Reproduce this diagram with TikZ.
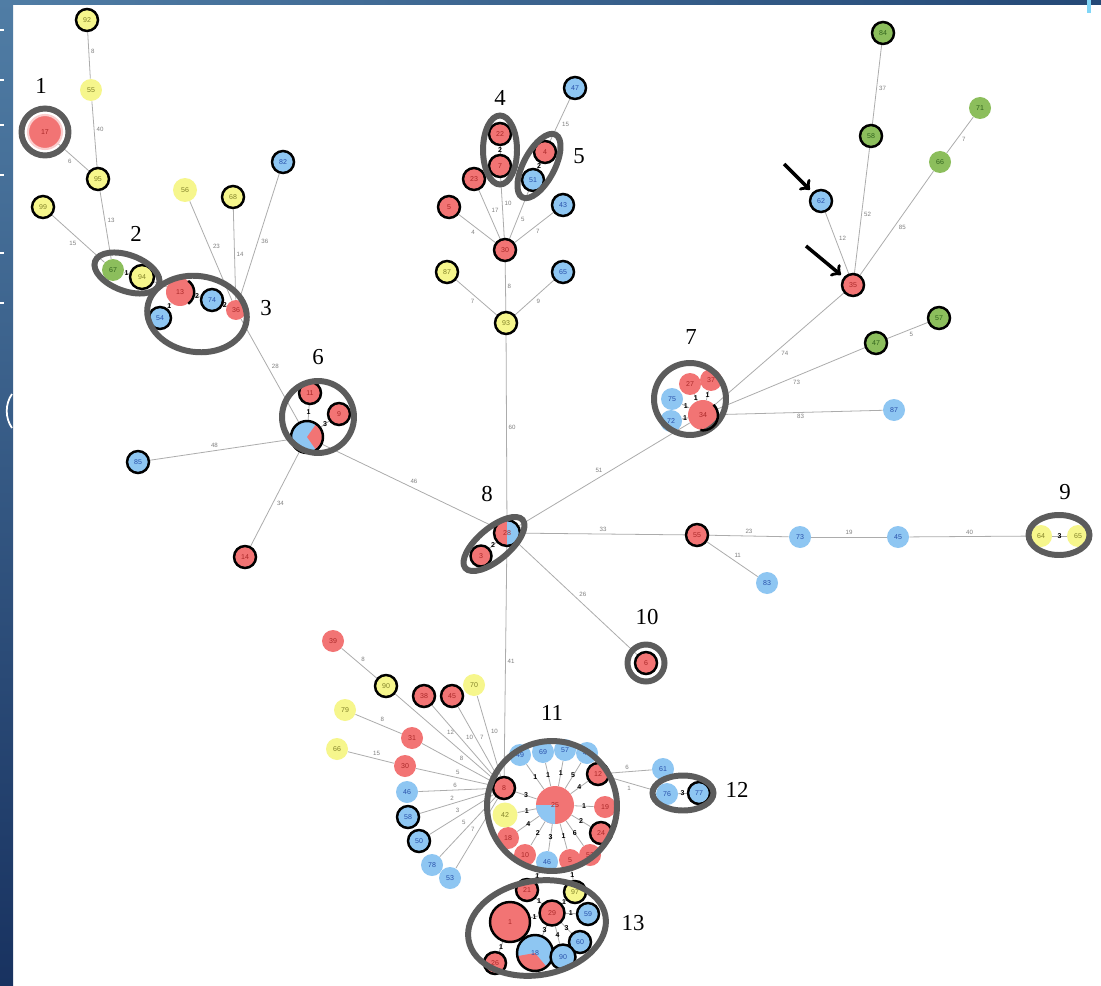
\documentclass[tikz,border=0pt]{standalone}
\usepackage{fontspec}
\setmainfont{Liberation Serif}
\setsansfont{Liberation Sans}
\usepackage{tikz}
\usetikzlibrary{arrows,shapes.geometric,backgrounds}

\begin{document}
\begin{tikzpicture}[x=0.02cm,y=-0.02cm]
    \definecolor{cred}{RGB}{242,116,116}
    \definecolor{cblue}{RGB}{142,198,242}
    \definecolor{cyel}{RGB}{246,246,140}
    \definecolor{cgrn}{RGB}{140,190,92}
    \definecolor{tred}{RGB}{170,40,40}
    \definecolor{tblue}{RGB}{40,80,170}
    \definecolor{tyel}{RGB}{130,130,40}
    \definecolor{tgrn}{RGB}{50,100,30}
    \definecolor{ringgray}{RGB}{92,92,92}
    \definecolor{frameA}{RGB}{80,125,165}
    \definecolor{frameB}{RGB}{24,50,96}
    \definecolor{frameC}{RGB}{36,72,118}

    \tikzstyle{hap}=[circle,inner sep=0pt,minimum size=0.44cm,font=\sffamily\fontsize{4}{4}\selectfont]  % 单倍型节点
    \tikzstyle{rd}=[hap,fill=cred,text=tred]
    \tikzstyle{bl}=[hap,fill=cblue,text=tblue]
    \tikzstyle{yl}=[hap,fill=cyel,text=tyel]
    \tikzstyle{gr}=[hap,fill=cgrn,text=tgrn]
    \tikzstyle{bd}=[draw=black,line width=1.4pt]  % 黑色边框
    \tikzstyle{ring}=[draw=ringgray,line width=3.4pt,inner sep=0pt]  % 分组圈
    \tikzstyle{glab}=[font=\fontsize{13}{14}\selectfont,inner sep=0pt]  % 分组编号
    \tikzstyle{lnk}=[draw=gray!65,line width=0.45pt]  % 连线
    \tikzstyle{elab}=[auto,font=\sffamily\fontsize{3.5}{4}\selectfont,text=gray,inner sep=1pt]
    \tikzstyle{ilab}=[font=\sffamily\bfseries\fontsize{4}{4}\selectfont,text=black,inner sep=0.5pt]
    \tikzstyle{ptr}=[->,line width=2pt,shorten >=2pt]  % 箭头
    \tikzset{wedgefill/.style n args={3}{path picture={\fill[#1] (path picture bounding box.center) -- ++(#2:1cm) arc[start angle=#2,end angle=#3,radius=1cm] -- cycle;}}}

    \useasboundingbox (0,0) rectangle (1101,986);

    % 左上
    \node[yl,bd] (n92) at (87,20) {92};
    \node[yl] (n55a) at (91,90) {55};
    \node[rd,minimum size=0.68cm,draw=cred!35!white,line width=1.2pt] (n17) at (45,132) {17};
    \node[ring,circle,minimum size=0.94cm] (g1) at (45,132) {};
    \node[glab] (l1) at (41,86) {1};
    \node[yl,bd] (n95) at (98,179) {95};
    \node[yl,bd] (n99) at (43,207) {99};
    \node[gr] (n67) at (113,270) {67};
    \node[yl,bd,minimum size=0.48cm] (n94) at (142,277) {94};
    \node[ring,ellipse,minimum width=1.36cm,minimum height=0.72cm,rotate=-20] (g2) at (127,273) {};
    \node[glab] (l2) at (136,234) {2};
    \node[rd,minimum size=0.56cm] (n13) at (180,292) {13};
    \node[bl,bd] (n74) at (212,300) {74};
    \node[rd,minimum size=0.4cm] (n36) at (236,310) {36};
    \node[bl,bd] (n54) at (160,318) {54};
    \node[ring,ellipse,minimum width=2cm,minimum height=1.52cm,rotate=-8] (g3) at (197,314) {};
    \node[glab] (l3) at (266,308) {3};
    \node[yl,minimum size=0.48cm] (n56) at (185,190) {56};
    \node[yl,bd] (n68) at (233,197) {68};
    \node[bl,bd] (n82) at (283,162) {82};

    % 第6组
    \node[rd,bd] (n11) at (310,393) {11};
    \node[rd,bd] (n9) at (339,414) {9};
    \node[bl,bd,minimum size=0.64cm,wedgefill={cred}{-55}{55}] (n6p) at (307,437) {};
    \node[ring,circle,minimum size=1.44cm] (g6) at (318,417) {};
    \node[glab] (l6) at (318,357) {6};
    \node[bl,bd] (n85) at (138,462) {85};
    \node[rd,bd] (n14) at (245,557) {14};

    % 第8组
    \node[rd,bd,minimum size=0.52cm,wedgefill={cblue}{-90}{90}] (n28) at (507,533) {28};
    \node[rd,bd,minimum size=0.42cm] (n3) at (481,556) {3};
    \node[ring,ellipse,minimum width=1.5cm,minimum height=0.64cm,rotate=40] (g8) at (494,544) {};
    \node[glab] (l8) at (487,494) {8};

    % 中上
    \node[yl,bd] (n93) at (506,323) {93};
    \node[yl,bd] (n87a) at (447,272) {87};
    \node[bl,bd] (n65a) at (563,272) {65};
    \node[rd,bd] (n30a) at (505,250) {30};
    \node[rd,bd] (n5a) at (449,207) {5};
    \node[rd,bd] (n23) at (474,179) {23};
    \node[rd,bd] (n7) at (500,166) {7};
    \node[rd,bd] (n22) at (500,134) {22};
    \node[ring,ellipse,minimum width=0.68cm,minimum height=1.38cm] (g4) at (500,150) {};
    \node[glab] (l4) at (500,98) {4};
    \node[rd,bd] (n4) at (545,152) {4};
    \node[bl,bd] (n51) at (533,180) {51};
    \node[ring,ellipse,minimum width=1.42cm,minimum height=0.62cm,rotate=62] (g5) at (539,166) {};
    \node[glab] (l5) at (579,156) {5};
    \node[bl,bd] (n47a) at (575,88) {47};
    \node[bl,bd] (n43) at (563,205) {43};

    % 右上
    \node[gr,bd] (n84) at (883,33) {84};
    \node[gr,bd] (n58a) at (871,136) {58};
    \node[gr] (n71) at (980,108) {71};
    \node[gr] (n66a) at (940,162) {66};
    \node[bl,bd] (n62) at (821,201) {62};
    \node[rd,bd] (n35) at (853,285) {35};
    \coordinate (a1) at (784,164);
    \coordinate (a2) at (806,246);
    \node[gr,bd] (n57b) at (939,318) {57};
    \node[gr,bd] (n47b) at (876,343) {47};
    \node[bl] (n87b) at (894,410) {87};

    % 第7组
    \node[rd] (n27) at (690,384) {27};
    \node[rd] (n37) at (711,380) {37};
    \node[bl] (n75) at (672,399) {75};
    \node[bl] (n72) at (671,421) {72};
    \node[rd,minimum size=0.6cm] (n34) at (703,415) {34};
    \node[ring,circle,minimum size=1.44cm] (g7) at (690,399) {};
    \node[glab] (l7) at (691,337) {7};

    % 右侧
    \node[rd,bd] (n55b) at (697,535) {55};
    \node[bl] (n73) at (800,537) {73};
    \node[bl] (n45a) at (898,537) {45};
    \node[bl] (n83) at (767,583) {83};
    \node[yl] (n64) at (1041,536) {64};
    \node[yl] (n65b) at (1078,536) {65};
    \node[ring,ellipse,minimum width=1.22cm,minimum height=0.8cm] (g9) at (1059,535) {};
    \node[glab] (l9) at (1065,492) {9};
    \node[rd,bd] (n6) at (646,663) {6};
    \node[ring,circle,minimum size=0.74cm] (g10) at (646,663) {};
    \node[glab] (l10) at (647,617) {10};

    % 第11组
    \node[rd,minimum size=0.76cm,wedgefill={cblue}{180}{270}] (n25) at (555,805) {25};
    \node[bl] (n49) at (520,755) {49};
    \node[bl] (n69) at (543,752) {69};
    \node[bl] (n57a) at (565,750) {57};
    \node[bl] (n44) at (587,753) {44};
    \node[rd,bd] (n12) at (598,774) {12};
    \node[rd] (n19) at (605,807) {19};
    \node[rd,bd] (n24) at (601,833) {24};
    \node[rd] (n52) at (590,855) {52};
    \node[rd] (n5b) at (570,860) {5};
    \node[bl] (n46a) at (547,862) {46};
    \node[rd] (n10) at (525,855) {10};
    \node[rd] (n18a) at (508,838) {18};
    \node[yl,minimum size=0.5cm] (n42) at (505,815) {42};
    \node[rd,bd] (n8) at (504,788) {8};
    \node[ring,circle,minimum size=2.6cm] (g11) at (552,806) {};
    \node[glab] (l11) at (552,713) {11};

    % 左下扇形
    \node[rd] (n39) at (333,641) {39};
    \node[yl,bd] (n90a) at (386,686) {90};
    \node[rd,bd] (n38) at (424,696) {38};
    \node[rd,bd] (n45b) at (452,696) {45};
    \node[yl] (n70) at (474,685) {70};
    \node[yl] (n79) at (345,710) {79};
    \node[rd] (n31) at (412,738) {31};
    \node[yl] (n66b) at (337,749) {66};
    \node[rd] (n30b) at (405,766) {30};
    \node[bl] (n46b) at (407,792) {46};
    \node[bl,bd] (n58b) at (408,817) {58};
    \node[bl,bd] (n50) at (419,841) {50};
    \node[bl] (n78) at (432,865) {78};
    \node[bl] (n53) at (450,878) {53};

    % 第12组
    \node[bl] (n61) at (663,769) {61};
    \node[bl] (n76) at (667,794) {76};
    \node[bl,bd] (n77) at (699,793) {77};
    \node[ring,ellipse,minimum width=1.22cm,minimum height=0.7cm] (g12) at (683,793) {};
    \node[glab] (l12) at (737,790) {12};

    % 第13组
    \node[rd,bd] (n21) at (527,890) {21};
    \node[yl,bd] (n97) at (575,892) {97};
    \node[rd,bd,minimum size=0.8cm] (n1) at (510,922) {1};
    \node[rd,bd,minimum size=0.5cm] (n29) at (552,913) {29};
    \node[bl,bd] (n59) at (588,914) {59};
    \node[bl,bd] (n60) at (580,942) {60};
    \node[bl,bd,minimum size=0.72cm,wedgefill={cred}{190}{310}] (n18b) at (535,953) {18};
    \node[bl,bd,minimum size=0.5cm] (n90b) at (563,957) {90};
    \node[rd,bd] (n26) at (495,963) {26};
    \node[ring,ellipse,minimum width=2.78cm,minimum height=1.88cm,rotate=10] (g13) at (537,928) {};
    \node[glab] (l13) at (633,923) {13};

    % 部分黑边
    \draw[black,line width=1.4pt] (n13.-55) arc[start angle=-55,end angle=55,radius=0.28cm];
    \draw[black,line width=1.4pt] (n34.-100) arc[start angle=-100,end angle=45,radius=0.3cm];

    % 箭头
    \draw[ptr] (a1) -- (n62);
    \draw[ptr] (a2) -- (n35);

    % 开始画线
    \begin{pgfonlayer}{background}
    \fill[white] (0,0) rectangle (1101,986);
    \shade[top color=frameA,bottom color=frameB] (0,0) rectangle (13,986);
    \shade[left color=frameA,right color=frameC] (0,0) rectangle (1101,5);
    \fill[cyan!50!white] (1087,0) rectangle (1091,13);
    \draw[white,line width=0.6pt] (0,30) -- (4,30) (0,80) -- (4,80) (0,125) -- (4,125) (0,175) -- (4,175) (0,253) -- (4,253) (0,303) -- (4,303);
    \draw[white,line width=1pt] (12,394) .. controls (5,404) and (5,418) .. (12,428);

    \draw[lnk] (n92) -- node[elab]{8} (n55a);
    \draw[lnk] (n55a) -- node[elab]{40} (n95);
    \draw[lnk] (n17) -- node[elab,swap]{6} (n95);
    \draw[lnk] (n95) -- node[elab]{13} (n67);
    \draw[lnk] (n99) -- node[elab,swap]{15} (n67);
    \draw[lnk] (n67) -- node[ilab]{1} (n94);
    \draw[lnk] (n94) -- node[ilab]{1} (n13);
    \draw[lnk] (n13) -- node[ilab]{2} (n74);
    \draw[lnk] (n74) -- node[ilab]{2} (n36);
    \draw[lnk] (n54) -- node[ilab]{1} (n13);
    \draw[lnk] (n56) -- node[elab]{23} (n36);
    \draw[lnk] (n68) -- node[elab]{14} (n36);
    \draw[lnk] (n82) -- node[elab]{36} (n36);
    \draw[lnk] (n36) -- node[elab]{28} (n6p);
    \draw[lnk] (n11) -- node[ilab]{1} (n6p);
    \draw[lnk] (n9) -- node[ilab]{3} (n6p);
    \draw[lnk] (n85) -- node[elab]{48} (n6p);
    \draw[lnk] (n6p) -- node[elab]{34} (n14);
    \draw[lnk] (n6p) -- node[elab]{46} (n28);
    \draw[lnk] (n3) -- node[ilab]{2} (n28);
    \draw[lnk] (n93) -- node[elab]{60} (n28);
    \draw[lnk] (n30a) -- node[elab]{8} (n93);
    \draw[lnk] (n87a) -- node[elab,swap]{7} (n93);
    \draw[lnk] (n65a) -- node[elab]{9} (n93);
    \draw[lnk] (n22) -- node[ilab]{2} (n7);
    \draw[lnk] (n7) -- node[elab]{10} (n30a);
    \draw[lnk] (n23) -- node[elab]{17} (n30a);
    \draw[lnk] (n5a) -- node[elab,swap]{4} (n30a);
    \draw[lnk] (n51) -- node[elab]{5} (n30a);
    \draw[lnk] (n43) -- node[elab]{7} (n30a);
    \draw[lnk] (n4) -- node[ilab]{2} (n51);
    \draw[lnk] (n47a) -- node[elab]{15} (n4);
    \draw[lnk] (n84) -- node[elab]{37} (n58a);
    \draw[lnk] (n58a) -- node[elab]{52} (n35);
    \draw[lnk] (n71) -- node[elab]{7} (n66a);
    \draw[lnk] (n66a) -- node[elab]{85} (n35);
    \draw[lnk] (n62) -- node[elab]{12} (n35);
    \draw[lnk] (n35) -- node[elab]{74} (n34);
    \draw[lnk] (n57b) -- node[elab]{5} (n47b);
    \draw[lnk] (n47b) -- node[elab]{73} (n34);
    \draw[lnk] (n87b) -- node[elab]{83} (n34);
    \draw[lnk] (n27) -- node[ilab]{1} (n34);
    \draw[lnk] (n37) -- node[ilab]{1} (n34);
    \draw[lnk] (n75) -- node[ilab]{1} (n34);
    \draw[lnk] (n72) -- node[ilab]{1} (n34);
    \draw[lnk] (n28) -- node[elab]{51} (n34);
    \draw[lnk] (n28) -- node[elab]{33} (n55b);
    \draw[lnk] (n55b) -- node[elab]{23} (n73);
    \draw[lnk] (n73) -- node[elab]{19} (n45a);
    \draw[lnk] (n45a) -- node[elab]{40} (n64);
    \draw[lnk] (n64) -- node[ilab]{3} (n65b);
    \draw[lnk] (n55b) -- node[elab]{11} (n83);
    \draw[lnk] (n28) -- node[elab]{26} (n6);
    \draw[lnk] (n28) -- node[elab]{41} (n8);

    \draw[lnk] (n25) -- node[ilab]{1} (n49);
    \draw[lnk] (n25) -- node[ilab]{1} (n69);
    \draw[lnk] (n25) -- node[ilab]{1} (n57a);
    \draw[lnk] (n25) -- node[ilab]{5} (n44);
    \draw[lnk] (n25) -- node[ilab]{4} (n12);
    \draw[lnk] (n25) -- node[ilab]{1} (n19);
    \draw[lnk] (n25) -- node[ilab]{2} (n24);
    \draw[lnk] (n25) -- node[ilab]{6} (n52);
    \draw[lnk] (n25) -- node[ilab]{1} (n5b);
    \draw[lnk] (n25) -- node[ilab]{3} (n46a);
    \draw[lnk] (n25) -- node[ilab]{2} (n10);
    \draw[lnk] (n25) -- node[ilab]{4} (n18a);
    \draw[lnk] (n25) -- node[ilab]{1} (n42);
    \draw[lnk] (n25) -- node[ilab]{3} (n8);

    \draw[lnk] (n39) -- node[elab]{8} (n90a);
    \draw[lnk] (n90a) -- node[elab]{12} (n8);
    \draw[lnk] (n38) -- node[elab]{10} (n8);
    \draw[lnk] (n45b) -- node[elab]{7} (n8);
    \draw[lnk] (n70) -- node[elab]{10} (n8);
    \draw[lnk] (n79) -- node[elab]{8} (n31);
    \draw[lnk] (n31) -- node[elab]{8} (n8);
    \draw[lnk] (n66b) -- node[elab]{15} (n30b);
    \draw[lnk] (n30b) -- node[elab]{5} (n8);
    \draw[lnk] (n46b) -- node[elab]{6} (n8);
    \draw[lnk] (n58b) -- node[elab]{2} (n8);
    \draw[lnk] (n50) -- node[elab]{3} (n8);
    \draw[lnk] (n78) -- node[elab]{5} (n8);
    \draw[lnk] (n53) -- node[elab]{7} (n8);

    \draw[lnk] (n12) -- node[elab]{6} (n61);
    \draw[lnk] (n12) -- node[elab,swap]{1} (n76);
    \draw[lnk] (n76) -- node[ilab]{3} (n77);

    \draw[lnk] (n46a) -- node[ilab]{1} (n21);
    \draw[lnk] (n5b) -- node[ilab]{1} (n97);
    \draw[lnk] (n21) -- node[ilab]{1} (n29);
    \draw[lnk] (n1) -- node[ilab]{1} (n29);
    \draw[lnk] (n97) -- node[ilab]{1} (n29);
    \draw[lnk] (n29) -- node[ilab]{1} (n59);
    \draw[lnk] (n29) -- node[ilab]{3} (n60);
    \draw[lnk] (n29) -- node[ilab]{4} (n90b);
    \draw[lnk] (n29) -- node[ilab]{3} (n18b);
    \draw[lnk] (n1) -- node[ilab]{1} (n26);
    \end{pgfonlayer}
\end{tikzpicture}
\end{document}
